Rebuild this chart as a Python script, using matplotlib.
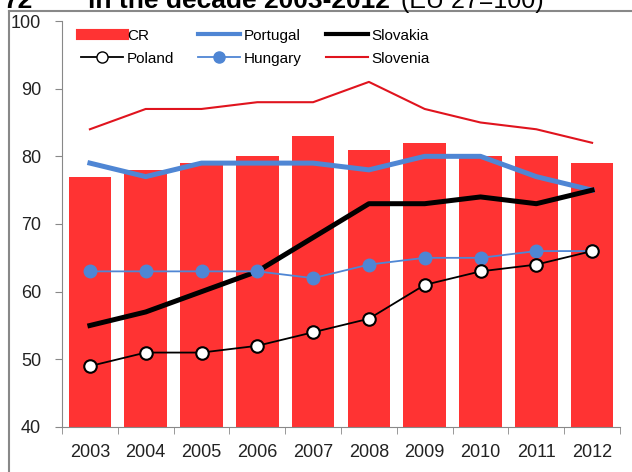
import numpy as np
import matplotlib
matplotlib.use("Agg")
import matplotlib.pyplot as plt
from matplotlib.lines import Line2D

plt.rcParams['font.family'] = ['Liberation Sans', 'DejaVu Sans']

years = ["2003", "2004", "2005", "2006", "2007", "2008", "2009", "2010", "2011", "2012"]
cr = [77, 78, 79, 80, 83, 81, 82, 80, 80, 79]
portugal = [79, 77, 79, 79, 79, 78, 80, 80, 77, 75]
slovakia = [55, 57, 60, 63, 68, 73, 73, 74, 73, 75]
poland = [49, 51, 51, 52, 54, 56, 61, 63, 64, 66]
hungary = [63, 63, 63, 63, 62, 64, 65, 65, 66, 66]
slovenia = [84, 87, 87, 88, 88, 91, 87, 85, 84, 82]

red = "#FF3333"
blue = "#4F86D4"

fig = plt.figure(figsize=(6.32, 4.72), dpi=100)
ax = fig.add_axes([62 / 632, 45 / 472, 558 / 632, 406 / 472])

x = np.arange(len(years))
ax.bar(x, cr, width=0.76, color=red, zorder=1)
ax.plot(x, slovenia, color="#E0141E", lw=1.5, zorder=2)
ax.plot(x, portugal, color=blue, lw=3.6, zorder=3)
ax.plot(x, slovakia, color="black", lw=3.6, zorder=4)
ax.plot(x, hungary, color=blue, lw=1.3, marker="o", ms=9, mfc=blue, mec=blue, zorder=5)
ax.plot(x, poland, color="black", lw=1.3, marker="o", ms=9, mfc="white", mec="black", mew=1.5, zorder=6)

ax.set_xlim(-0.5, len(years) - 0.5)
ax.set_ylim(40, 100)
ax.set_yticks([40, 50, 60, 70, 80, 90, 100])
ax.set_xticks(x)
ax.set_xticklabels(years)
ax.set_xticks(np.arange(-0.5, len(years), 1), minor=True)
ax.tick_params(axis="x", which="major", length=0, pad=12, labelsize=13, colors="#222222")
ax.tick_params(axis="x", which="minor", length=5, color="#888888")
ax.tick_params(axis="y", length=5, color="#888888", labelsize=13, labelcolor="#222222", pad=10)
for s in ["top", "right"]:
    ax.spines[s].set_visible(False)
for s in ["left", "bottom"]:
    ax.spines[s].set_color("#888888")

handles = [
    Line2D([], [], color=red, lw=8),
    Line2D([], [], color="black", lw=1.3, marker="o", ms=8, mfc="white", mec="black"),
    Line2D([], [], color=blue, lw=3),
    Line2D([], [], color=blue, lw=1.3, marker="o", ms=8, mfc=blue, mec=blue),
    Line2D([], [], color="black", lw=3),
    Line2D([], [], color="#E0141E", lw=1.5),
]
labels = ["CR", "Poland", "Portugal", "Hungary", "Slovakia", "Slovenia"]
ax.legend(handles, labels, ncol=3, loc="upper left", bbox_to_anchor=(0.01, 1.015),
          frameon=False, fontsize=11, handlelength=2.75, handletextpad=0.25,
          columnspacing=1.55, labelspacing=0.6)

# outer frame (left and top edges)
fig.add_artist(Line2D([9 / 632, 9 / 632], [0, 1 - 11 / 472], color="#888888", lw=1.5))
fig.add_artist(Line2D([9 / 632, 1], [1 - 11 / 472, 1 - 11 / 472], color="#888888", lw=1.5))

# title, cut off at the top edge as in the source image
fig.text(33 / 632, 1 - 8 / 472, "72", fontsize=19, fontweight="bold", va="baseline", ha="right")
fig.text(88 / 632, 1 - 8 / 472, "in the decade 2003-2012", fontsize=19, fontweight="bold",
         va="baseline")
fig.text(401 / 632, 1 - 8 / 472, "(EU 27=100)", fontsize=18, va="baseline")

fig.savefig("out.png", dpi=100)
